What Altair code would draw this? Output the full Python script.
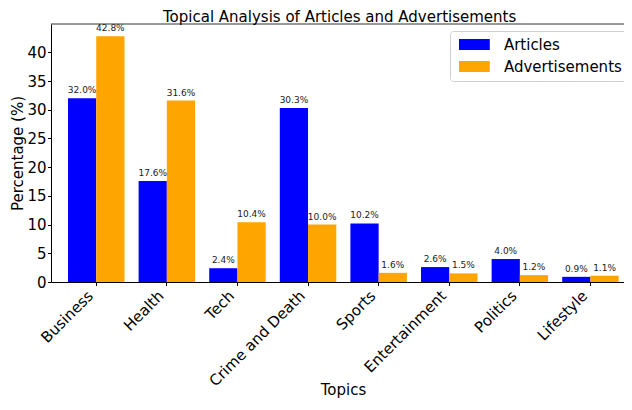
import altair as alt
import pandas as pd

categories = ["Business", "Health", "Tech", "Crime and Death", "Sports",
              "Entertainment", "Politics", "Lifestyle"]
articles = [32.0, 17.6, 2.4, 30.3, 10.2, 2.6, 4.0, 0.9]
ads = [42.8, 31.6, 10.4, 10.0, 1.6, 1.5, 1.2, 1.1]
series = ["Articles", "Advertisements"]
colors = ["blue", "orange"]
y_ticks = [0, 5, 10, 15, 20, 25, 30, 35, 40]

rows = []
for c, a, d in zip(categories, articles, ads):
    rows.append({"Topic": c, "Type": "Articles", "Value": a, "Label": f"{a:.1f}%"})
    rows.append({"Topic": c, "Type": "Advertisements", "Value": d, "Label": f"{d:.1f}%"})
df = pd.DataFrame(rows)

W, H = 573, 258
FONT = "DejaVu Sans"

x_enc = alt.X("Topic:N", sort=categories,
              scale=alt.Scale(paddingInner=0.2, paddingOuter=0.158, align=0.762, round=False),
              axis=alt.Axis(title="Topics", labelAngle=-45, labelAlign="right",
                            labelBaseline="bottom", labelFontSize=15, labelPadding=13,
                            tickSize=3.5, tickColor="black", domainColor="black",
                            domainWidth=1, labelColor="black", titleFontSize=15,
                            titleFontWeight="normal", titleColor="black",
                            titleX=292, titleY=112, titleBaseline="alphabetic", grid=False))
xo_enc = alt.XOffset("Type:N", sort=series,
                     scale=alt.Scale(domain=series, paddingInner=0, paddingOuter=0, round=False))
y_enc = alt.Y("Value:Q", scale=alt.Scale(domain=[0, 44.94], nice=False, zero=True),
              axis=alt.Axis(title="Percentage (%)", values=y_ticks, labelFontSize=15,
                            tickSize=3.5, labelPadding=1.5, tickColor="black",
                            domainColor="black", domainWidth=1, labelColor="black",
                            titleFontSize=15, titleFontWeight="normal",
                            titleColor="black", titleX=-34, titleY=H / 2,
                            titleAlign="center", titleBaseline="middle", grid=False))

base = alt.Chart(df)
bars = base.mark_bar().encode(
    x=x_enc, xOffset=xo_enc, y=y_enc,
    color=alt.Color("Type:N", sort=series,
                    scale=alt.Scale(domain=series, range=colors),
                    legend=alt.Legend(title=None, orient="none", legendX=399, legendY=7,
                                      labelFontSize=15, labelColor="black",
                                      symbolType="M-2.8,-1L2.8,-1L2.8,1L-2.8,1Z",
                                      symbolSize=121, symbolStrokeWidth=0,
                                      symbolOffset=10.9,
                                      padding=6, strokeColor="#d0d0d0",
                                      cornerRadius=3, fillColor="white",
                                      rowPadding=6, labelOffset=22)),
)
labels = base.mark_text(baseline="bottom", dy=-3, fontSize=9, color="#222", font=FONT).encode(
    x=x_enc, xOffset=xo_enc, y=y_enc, text="Label:N")

top_spine = alt.Chart(pd.DataFrame({"s": [0]})).mark_rule(color="#333", strokeWidth=1).encode(
    y=alt.value(0), x=alt.value(0), x2=alt.value(W))

chart = alt.layer(bars, labels, top_spine).properties(
    width=W, height=H,
    title=alt.TitleParams("Topical Analysis of Articles and Advertisements",
                          fontSize=15, fontWeight="normal", color="black",
                          anchor="start", dx=153, dy=3, offset=2, font=FONT),
    autosize=alt.AutoSizeParams(type="none"),
    padding={"left": 43, "top": 16, "right": 0, "bottom": 116},
).configure(font=FONT).configure_view(stroke=None)

chart.save("out.html", embed_options={"renderer": "svg", "actions": False})
